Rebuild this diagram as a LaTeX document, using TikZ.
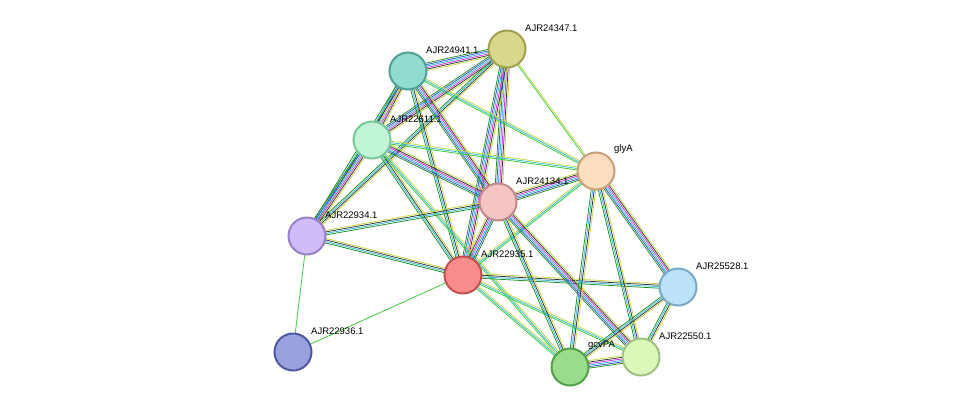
\documentclass[tikz,border=0pt]{standalone}
\usepackage{fontspec}
\setmainfont{Liberation Sans}
\usetikzlibrary{calc}
\definecolor{lg}{HTML}{33CC33}
\definecolor{dg}{HTML}{1F8F1F}
\definecolor{bl}{HTML}{3355DD}
\definecolor{cy}{HTML}{33BBDD}
\definecolor{mg}{HTML}{DD33DD}
\definecolor{bk}{HTML}{333333}
\definecolor{yl}{HTML}{C8D840}
\definecolor{fa}{HTML}{D8D88A}\definecolor{ba}{HTML}{A0A050}
\definecolor{fb}{HTML}{90DDD0}\definecolor{bb}{HTML}{50A098}
\definecolor{fc}{HTML}{C0F5D8}\definecolor{bc}{HTML}{78C898}
\definecolor{fg}{HTML}{FCDDBE}\definecolor{bg}{HTML}{C8A078}
\definecolor{fd}{HTML}{F5C5C5}\definecolor{bd}{HTML}{C08888}
\definecolor{fe}{HTML}{D0BCF8}\definecolor{be}{HTML}{9880C8}
\definecolor{ff}{HTML}{F88C8C}\definecolor{bf}{HTML}{C05050}
\definecolor{fh}{HTML}{BCE2F8}\definecolor{bh}{HTML}{78A8C8}
\definecolor{fi}{HTML}{98A2DE}\definecolor{bi}{HTML}{5058A0}
\definecolor{fj}{HTML}{98DC8C}\definecolor{bj}{HTML}{50A048}
\definecolor{fk}{HTML}{DAF8BA}\definecolor{bk2}{HTML}{A0C080}
\def\full{dg/-3.75,bl/-2.25,cy/-0.75,mg/0.75,bk/2.25,yl/3.75}
\def\medi{dg/-2.25,cy/-0.75,bk/0.75,yl/2.25}
\def\tri{lg/-1.5,cy/0,yl/1.5}
\def\two{lg/-0.75,yl/0.75}
\def\one{lg/0}
\newcommand\edg[3]{\foreach \c/\o in #3 {\draw[\c,line width=0.75pt] ($(#1)!\o pt!90:(#2)$) -- ($(#2)!\o pt!-90:(#1)$);}}
\tikzset{pn/.style 2 args={circle,minimum size=37pt,inner sep=0pt,fill=#1,draw=#2,line width=2pt},
lab/.style={font=\fontsize{9.5pt}{11pt}\selectfont,anchor=south west,inner sep=1pt}}
\begin{document}
\begin{tikzpicture}[x=1pt,y=-1pt]
\useasboundingbox[fill=white] (0,0) rectangle (975,413);
\coordinate (a) at (507,49);
\coordinate (b) at (408,71);
\coordinate (c) at (372,140);
\coordinate (g) at (596,171);
\coordinate (d) at (498,202);
\coordinate (e) at (307,236);
\coordinate (f) at (463,275);
\coordinate (h) at (678,287);
\coordinate (i) at (293,352);
\coordinate (j) at (570,367);
\coordinate (k) at (641,357);
\edg{a}{b}{\full}\edg{a}{c}{\full}\edg{a}{e}{\medi}\edg{a}{d}{\full}\edg{a}{f}{\full}\edg{a}{g}{\two}
\edg{b}{c}{\full}\edg{b}{e}{\medi}\edg{b}{d}{\full}\edg{b}{f}{\medi}\edg{b}{g}{\tri}
\edg{c}{e}{\full}\edg{c}{d}{\full}\edg{c}{f}{\medi}\edg{c}{g}{\tri}\edg{c}{j}{\tri}
\edg{e}{d}{\medi}\edg{e}{f}{\medi}\edg{e}{i}{\one}\edg{f}{i}{\one}
\edg{f}{d}{\full}\edg{f}{g}{\tri}\edg{f}{h}{\medi}\edg{f}{j}{\tri}\edg{f}{k}{\tri}
\edg{d}{g}{\full}\edg{d}{j}{\medi}\edg{d}{k}{\full}
\edg{g}{j}{\medi}\edg{g}{k}{\medi}\edg{g}{h}{\full}
\edg{h}{j}{\medi}\edg{h}{k}{\medi}\edg{j}{k}{\full}
\node[pn={fa}{ba}] (na) at (a) {};
\node[pn={fb}{bb}] (nb) at (b) {};
\node[pn={fc}{bc}] (nc) at (c) {};
\node[pn={fg}{bg}] (ng) at (g) {};
\node[pn={fd}{bd}] (nd) at (d) {};
\node[pn={fe}{be}] (ne) at (e) {};
\node[pn={ff}{bf}] (nf) at (f) {};
\node[pn={fh}{bh}] (nh) at (h) {};
\node[pn={fi}{bi}] (ni) at (i) {};
\node[pn={fj}{bj}] (nj) at (j) {};
\node[pn={fk}{bk2}] (nk) at (k) {};
\node[lab] at (524,33) {AJR24347.1};
\node[lab] at (425,55) {AJR24941.1};
\node[lab] at (389,124) {AJR22611.1};
\node[lab] at (613,155) {glyA};
\node[lab] at (515,186) {AJR24134.1};
\node[lab] at (324,220) {AJR22934.1};
\node[lab] at (480,259) {AJR22935.1};
\node[lab] at (695,271) {AJR25528.1};
\node[lab] at (310,336) {AJR22936.1};
\node[lab] at (587,351) {gcvPA};
\node[lab] at (658,341) {AJR22550.1};
\end{tikzpicture}
\end{document}
